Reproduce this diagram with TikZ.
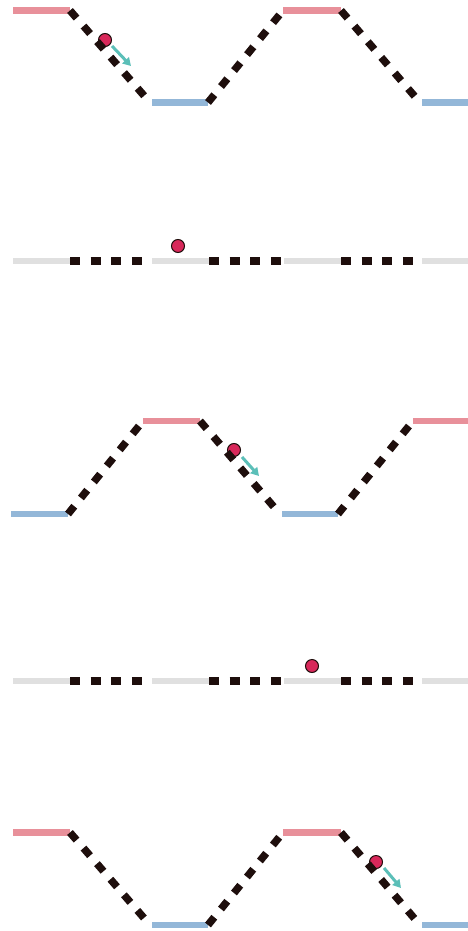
\documentclass[tikz,border=0pt]{standalone}
\usetikzlibrary{arrows.meta}
\definecolor{pinkbar}{HTML}{E8909A}
\definecolor{bluebar}{HTML}{93B7D8}
\definecolor{graybar}{HTML}{E0E0E0}
\definecolor{dashcol}{HTML}{1E0E0C}
\definecolor{ballred}{HTML}{D8285A}
\definecolor{teal}{HTML}{5BBFB8}
\tikzset{
  pbar/.style={pinkbar,line width=6.5pt},
  bbar/.style={bluebar,line width=6.5pt},
  gbar/.style={graybar,line width=6.5pt},
  dline/.style={dashcol,line width=7.5pt,dash pattern=on 10pt off 10.6pt},
  ball/.style={circle,fill=ballred,draw=dashcol,line width=1pt,minimum size=13pt,inner sep=0pt},
  motion/.style={teal,line width=3pt,-{Triangle[length=8pt,width=9pt]}}
}
\begin{document}
\begin{tikzpicture}[x=1pt,y=-1pt]
\useasboundingbox (0,0) rectangle (468,931);
% ---------- Row 1 ----------
\node[ball] (b1) at (105,40) {};
\coordinate (a1s) at (112,46);
\coordinate (a1e) at (131,66);
\draw[pbar] (13,10.5) -- (70,10.5);
\draw[bbar] (152,102.5) -- (208,102.5);
\draw[pbar] (283,10.5) -- (341,10.5);
\draw[bbar] (422,102.5) -- (468,102.5);
\draw[dline] (70,10.5) -- (150,102.5);
\draw[dline] (208,102.5) -- (283,10.5);
\draw[dline] (341,10.5) -- (420,102.5);
\draw[motion] (a1s) -- (a1e);
% ---------- Row 2 ----------
\draw[gbar] (13,261) -- (70,261);
\draw[gbar] (152,261) -- (209,261);
\draw[gbar] (284,261) -- (341,261);
\draw[gbar] (422,261) -- (468,261);
\draw[dline] (70,261) -- (150,261);
\draw[dline] (209,261) -- (284,261);
\draw[dline] (341,261) -- (422,261);
\node[ball] (b2) at (178,246) {};
% ---------- Row 3 ----------
\node[ball] (b3) at (234,450) {};
\coordinate (a3s) at (242,457);
\coordinate (a3e) at (259,476);
\draw[bbar] (11,514) -- (68,514);
\draw[pbar] (143,421) -- (200,421);
\draw[bbar] (282,514) -- (338,514);
\draw[pbar] (413,421) -- (468,421);
\draw[dline] (68,514) -- (143,421);
\draw[dline] (200,421) -- (280,514);
\draw[dline] (338,514) -- (413,421);
\draw[motion] (a3s) -- (a3e);
% ---------- Row 4 ----------
\draw[gbar] (13,681) -- (70,681);
\draw[gbar] (152,681) -- (209,681);
\draw[gbar] (284,681) -- (341,681);
\draw[gbar] (422,681) -- (468,681);
\draw[dline] (70,681) -- (150,681);
\draw[dline] (209,681) -- (284,681);
\draw[dline] (341,681) -- (422,681);
\node[ball] (b4) at (312,666) {};
% ---------- Row 5 ----------
\node[ball] (b5) at (376,862) {};
\coordinate (a5s) at (384,868);
\coordinate (a5e) at (401,888);
\draw[pbar] (13,832.5) -- (70,832.5);
\draw[bbar] (152,925) -- (208,925);
\draw[pbar] (283,832.5) -- (341,832.5);
\draw[bbar] (422,925) -- (468,925);
\draw[dline] (70,832.5) -- (150,925);
\draw[dline] (208,925) -- (283,832.5);
\draw[dline] (341,832.5) -- (420,925);
\draw[motion] (a5s) -- (a5e);
\end{tikzpicture}
\end{document}
